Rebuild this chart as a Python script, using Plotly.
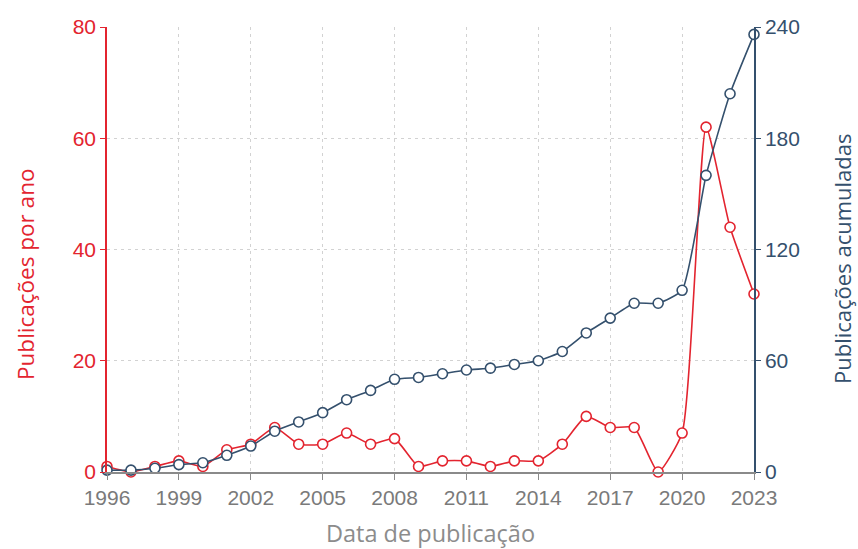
import plotly.graph_objects as go

# Publication counts per year and running total
anos = list(range(1996, 2024))
por_ano = [1, 0, 1, 2, 1, 4, 5, 8, 5, 5, 7, 5, 6, 1, 2, 2, 1, 2, 2, 5,
           10, 8, 8, 0, 7, 62, 44, 32]
acumuladas = [1, 1, 2, 4, 5, 9, 14, 22, 27, 32, 39, 44, 50, 51, 53, 55, 56,
              58, 60, 65, 75, 83, 91, 91, 98, 160, 204, 236]

x_ticks = list(range(1996, 2024, 3))
y_ticks = [0, 20, 40, 60, 80]
y2_ticks = [0, 60, 120, 180, 240]

RED = "#e3242f"
NAVY = "#34506d"
GRAY = "#7a7a7a"
GRID = "#d2d2d2"

fig = go.Figure()

fig.add_trace(go.Scatter(
    x=anos, y=por_ano, mode="lines+markers", name="Publicações por ano",
    line=dict(color=RED, width=1.6, shape="spline", smoothing=0.5),
    marker=dict(size=10, color="white", line=dict(color=RED, width=1.6)),
    cliponaxis=False,
))
fig.add_trace(go.Scatter(
    x=anos, y=acumuladas, mode="lines+markers", name="Publicações acumuladas",
    yaxis="y2",
    line=dict(color=NAVY, width=1.6, shape="spline", smoothing=0.5),
    marker=dict(size=10, color="white", line=dict(color=NAVY, width=1.6)),
    cliponaxis=False,
))

fig.update_layout(
    width=858, height=549,
    margin=dict(l=107, r=104, t=27, b=77),
    paper_bgcolor="white", plot_bgcolor="white",
    showlegend=False,
    font=dict(family="Liberation Sans, Arial, sans-serif"),
    xaxis=dict(
        range=[1996, 2023], tickvals=x_ticks, ticktext=[str(v) for v in x_ticks],
        showgrid=True, gridcolor=GRID, griddash="3px,4px", gridwidth=1,
        showline=True, linecolor="#8a8a8a", linewidth=1.5,
        ticks="outside", ticklen=6, tickcolor="#8a8a8a", tickwidth=1.2,
        tickfont=dict(size=21, color=GRAY),
        zeroline=False, automargin=False,
        title=dict(text="Data de publicação", standoff=18,
                   font=dict(family="Open Sans", size=23.5, color="#8c8c8c")),
    ),
    yaxis=dict(
        range=[0, 80], tickvals=y_ticks,
        showgrid=True, gridcolor=GRID, griddash="3px,4px", gridwidth=1,
        showline=True, linecolor=RED, linewidth=1.5,
        ticks="outside", ticklen=5, tickcolor=RED, tickwidth=1.2,
        tickfont=dict(size=21, color=RED),
        zeroline=False, automargin=False,
    ),
    yaxis2=dict(
        range=[0, 240], tickvals=y2_ticks, overlaying="y", side="right",
        showgrid=False,
        showline=True, linecolor=NAVY, linewidth=1.5,
        ticks="outside", ticklen=5, tickcolor=NAVY, tickwidth=1.2,
        tickfont=dict(size=21, color=NAVY),
        zeroline=False, automargin=False,
    ),
    annotations=[
        dict(text="Publicações por ano", textangle=-90, showarrow=False,
             xref="paper", yref="paper", x=-0.1252, y=0.445,
             xanchor="center", yanchor="middle",
             font=dict(family="Open Sans", size=22.5, color=RED)),
        dict(text="Publicações acumuladas", textangle=-90, showarrow=False,
             xref="paper", yref="paper", x=1.1360, y=0.4787,
             xanchor="center", yanchor="middle",
             font=dict(family="Open Sans", size=22, color=NAVY)),
    ],
)

fig.write_html("out.html")
